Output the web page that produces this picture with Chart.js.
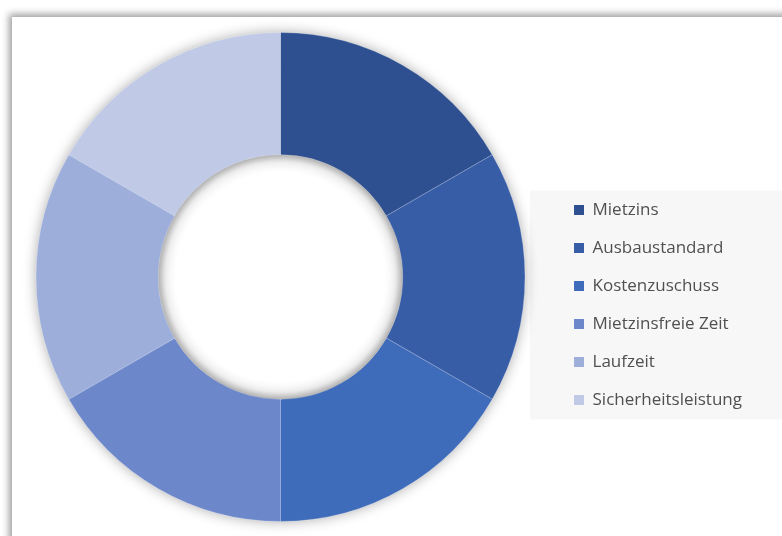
<!DOCTYPE html>
<html><head><meta charset="utf-8">
<script src="https://cdn.jsdelivr.net/npm/chart.js@4.4.1/dist/chart.umd.min.js"></script>
<style>
html,body{margin:0;padding:0;background:#fff;width:782px;height:536px;overflow:hidden;}
#card{position:absolute;left:12px;top:17px;width:830px;height:590px;background:#fff;box-shadow:0 0 7px 3px rgba(0,0,0,0.38);}
#c{position:absolute;left:0;top:0;}
</style></head><body>
<div id="card"></div>
<canvas id="c" width="782" height="536"></canvas>
<script>
const categories = ['Mietzins','Ausbaustandard','Kostenzuschuss','Mietzinsfreie Zeit','Laufzeit','Sicherheitsleistung'];
const values = [1,1,1,1,1,1];
const colors = ['#2E5090','#385DA7','#3F6CBA','#6C87CA','#9DAEDB','#C0CAE6'];

const legendBg = {
  id: 'legendBg',
  beforeDraw(chart) {
    const hb = chart.legend && chart.legend.legendHitBoxes;
    if (!hb || !hb.length) return;
    const ctx = chart.ctx;
    const last = hb[hb.length - 1];
    const top = hb[0].top - 11;
    const bottom = last.top + last.height + 11;
    const left = hb[0].left - 44;
    ctx.save();
    ctx.fillStyle = '#f7f7f7';
    ctx.fillRect(left, top, chart.width - left, bottom - top);
    ctx.restore();
  }
};

const ringShadow = {
  id: 'ringShadow',
  beforeDatasetsDraw(chart) {
    const arc = chart.getDatasetMeta(0).data[0];
    if (!arc) return;
    const ctx = chart.ctx;
    ctx.save();
    ctx.shadowColor = 'rgba(0,0,0,0.38)';
    ctx.shadowBlur = 14;
    ctx.fillStyle = '#5a78bd';
    ctx.beginPath();
    ctx.arc(arc.x, arc.y, arc.outerRadius - 1, 0, Math.PI * 2);
    ctx.arc(arc.x, arc.y, arc.innerRadius + 1, 0, Math.PI * 2, true);
    ctx.fill();
    ctx.restore();
  },
  afterDatasetsDraw(chart) {
    const arc = chart.getDatasetMeta(0).data[0];
    if (!arc) return;
    const ctx = chart.ctx;
    const r = arc.innerRadius;
    const g = ctx.createRadialGradient(arc.x, arc.y, r - 18, arc.x, arc.y, r);
    g.addColorStop(0, 'rgba(0,0,0,0)');
    g.addColorStop(0.6, 'rgba(0,0,0,0.04)');
    g.addColorStop(1, 'rgba(0,0,0,0.17)');
    ctx.save();
    ctx.fillStyle = g;
    ctx.beginPath();
    ctx.arc(arc.x, arc.y, r, 0, Math.PI * 2);
    ctx.fill();
    ctx.restore();
  }
};

const baseGen = Chart.overrides.doughnut.plugins.legend.labels.generateLabels;

new Chart(document.getElementById('c'), {
  type: 'doughnut',
  data: {
    labels: categories,
    datasets: [{
      data: values,
      backgroundColor: colors,
      borderColor: 'rgba(255,255,255,0.25)',
      borderWidth: 1
    }]
  },
  options: {
    responsive: false,
    animation: false,
    events: [],
    cutout: '50%',
    layout: { padding: { left: 8, right: 30, top: 32, bottom: 14 } },
    plugins: {
      tooltip: { enabled: false },
      legend: {
        position: 'right',
        title: { display: true, text: '', font: { size: 10, lineHeight: 1 }, padding: { top: 46, bottom: 0 } },
        labels: {
          boxWidth: 10,
          boxHeight: 10,
          padding: 21,
          color: '#505050',
          font: { family: "'Open Sans', sans-serif", size: 17 },
          generateLabels(chart) {
            return baseGen(chart).map(l => Object.assign(l, { lineWidth: 0, strokeStyle: 'rgba(0,0,0,0)' }));
          }
        }
      }
    }
  },
  plugins: [legendBg, ringShadow]
});
</script>
</body></html>
